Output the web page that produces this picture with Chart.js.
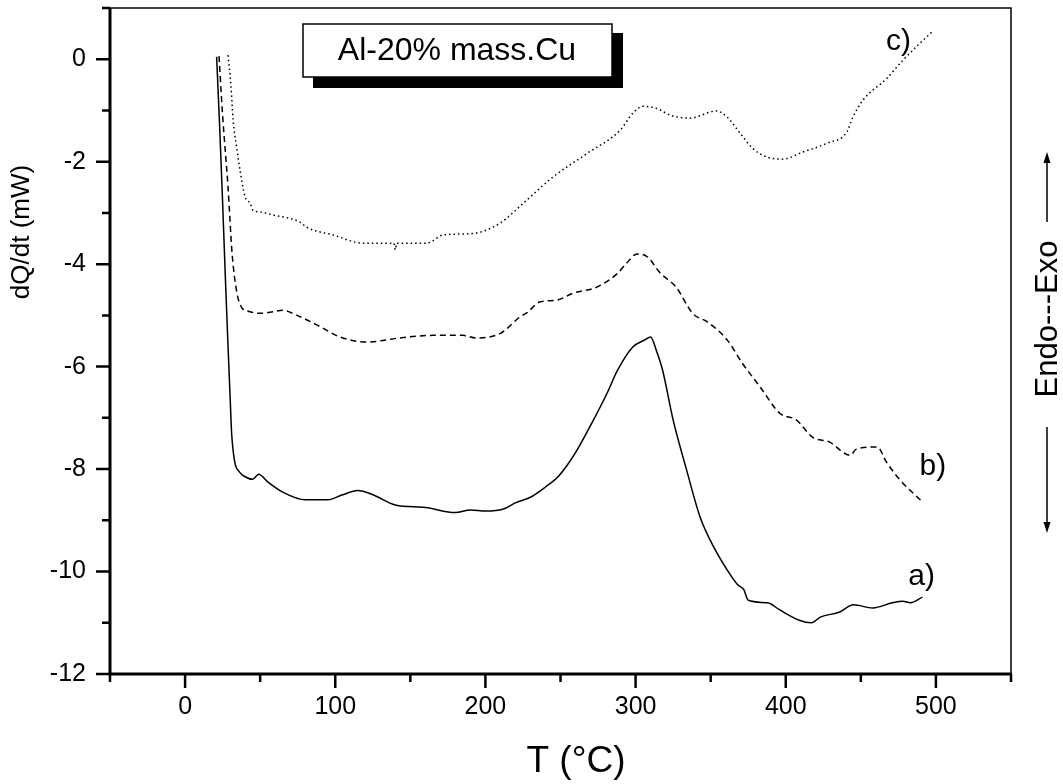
<!DOCTYPE html>
<html>
<head>
<meta charset="utf-8">
<script src="https://cdn.jsdelivr.net/npm/chart.js@4.4.1/dist/chart.umd.min.js"></script>
<style>
  html, body { margin: 0; padding: 0; background: #fff; }
  #wrap { width: 1063px; height: 784px; position: relative; }
</style>
</head>
<body>
<div id="wrap"><canvas id="dsc"></canvas></div>
<script>
// curve a) solid
let aT = [21, 23, 25, 27, 28.6, 30, 31, 33, 36, 40, 45, 49, 55, 65, 80, 95, 105, 115, 125, 140, 160, 180, 190, 200, 212, 220, 230, 240, 248, 255, 261, 272, 281, 288, 298, 306, 310, 314, 318, 325, 334, 343, 352, 361, 368, 372, 375, 388, 396, 409, 417, 423, 436, 445, 458, 471, 478, 483, 491];
let aQ = [0.05, -1.3, -2.8, -4.4, -5.6, -6.6, -7.3, -7.85, -8.05, -8.15, -8.2, -8.1, -8.25, -8.45, -8.6, -8.6, -8.5, -8.42, -8.5, -8.7, -8.75, -8.85, -8.8, -8.82, -8.78, -8.66, -8.55, -8.35, -8.16, -7.9, -7.63, -7.04, -6.52, -6.07, -5.62, -5.48, -5.42, -5.7, -6.07, -7.04, -8.02, -8.94, -9.52, -9.97, -10.26, -10.35, -10.56, -10.61, -10.75, -10.95, -11.0, -10.89, -10.79, -10.65, -10.71, -10.61, -10.58, -10.61, -10.5];

// curve b) dashed
let bT = [22.6, 25, 28.6, 31.3, 34.6, 38, 42, 50, 56.6, 65, 74.6, 88, 103, 121, 143, 165, 185, 194, 210, 223, 228, 236, 248, 258, 274, 288, 294, 301, 308, 316, 327, 338, 348, 361, 371, 383, 396, 407, 418, 429, 443, 447, 461, 467, 476, 491];
let bQ = [0.06, -1.1, -2.5, -3.79, -4.57, -4.86, -4.92, -4.96, -4.94, -4.9, -5.0, -5.19, -5.42, -5.52, -5.44, -5.39, -5.39, -5.44, -5.35, -5.03, -4.94, -4.74, -4.7, -4.57, -4.45, -4.18, -3.98, -3.8, -3.86, -4.16, -4.45, -4.96, -5.13, -5.48, -5.93, -6.4, -6.91, -7.04, -7.38, -7.47, -7.73, -7.61, -7.57, -7.86, -8.21, -8.64];

// curve c) dotted
let cT = [28.6, 30.5, 32, 34.5, 36.6, 40, 43.3, 45.3, 50, 58.6, 76.6, 81, 98.5, 118.5, 125, 139, 140, 141, 161, 171.8, 191.7, 209.7, 226, 245, 267.6, 289.6, 298.3, 305, 314, 323, 336, 354, 361, 369.5, 378, 387.5, 398, 411.5, 427.4, 440.7, 444.7, 451.4, 467.4, 478, 489.3, 497.3];
let cQ = [0.08, -0.5, -1.19, -1.75, -2.17, -2.69, -2.81, -2.95, -2.98, -3.04, -3.18, -3.28, -3.43, -3.59, -3.59, -3.59, -3.72, -3.59, -3.59, -3.43, -3.4, -3.2, -2.79, -2.3, -1.84, -1.39, -1.05, -0.92, -0.96, -1.09, -1.15, -1.01, -1.13, -1.44, -1.74, -1.91, -1.95, -1.81, -1.64, -1.42, -1.13, -0.8, -0.37, -0.02, 0.31, 0.53];

let curveNames = ['a)', 'b)', 'c)'];
// where each name sits, in data units
let nameT = [490.5, 498, 475];
let nameQ = [-10.1, -7.96, 0.35];

let sampleName = 'Al-20% mass.Cu';
let xTitle = 'T (°C)';
let yTitle = 'dQ/dt (mW)';
let sideTitle = 'Endo---Exo';

const FONT = '"Liberation Sans", Arial, sans-serif';

function pts(t, q) {
  return t.map((v, i) => ({x: v, y: q[i]}));
}

const decor = {
  id: 'decor',
  afterDraw(chart) {
    const ctx = chart.ctx;
    const a = chart.chartArea;
    const x = chart.scales.x, y = chart.scales.y;
    ctx.save();
    ctx.strokeStyle = '#000';
    ctx.fillStyle = '#000';

    // frame: thin top/right, heavy left/bottom
    ctx.lineWidth = 1.5;
    ctx.beginPath();
    ctx.moveTo(a.left, a.top); ctx.lineTo(a.right, a.top); ctx.lineTo(a.right, a.bottom);
    ctx.stroke();
    ctx.lineWidth = 3;
    ctx.beginPath();
    ctx.moveTo(a.left, a.top); ctx.lineTo(a.left, a.bottom); ctx.lineTo(a.right + 1, a.bottom);
    ctx.stroke();

    // tick marks
    ctx.lineWidth = 2.5;
    ctx.beginPath();
    x.ticks.forEach(t => {
      const px = x.getPixelForValue(t.value);
      const len = t.value % 100 === 0 ? 14 : 8;
      ctx.moveTo(px, a.bottom); ctx.lineTo(px, a.bottom + len);
    });
    y.ticks.forEach(t => {
      const py = y.getPixelForValue(t.value);
      const len = t.value % 2 === 0 ? 14 : 8;
      ctx.moveTo(a.left, py); ctx.lineTo(a.left - len, py);
    });
    ctx.stroke();

    // curve names
    ctx.font = '30px ' + FONT;
    ctx.textAlign = 'center';
    ctx.textBaseline = 'middle';
    curveNames.forEach((n, i) => {
      ctx.fillText(n, x.getPixelForValue(nameT[i]), y.getPixelForValue(nameQ[i]));
    });

    // sample box with shadow
    ctx.fillRect(313, 33, 310, 55);
    ctx.fillStyle = '#fff';
    ctx.fillRect(303, 24, 309, 53);
    ctx.lineWidth = 1.5;
    ctx.strokeRect(303, 24, 309, 53);
    ctx.fillStyle = '#000';
    ctx.font = '32px ' + FONT;
    ctx.fillText(sampleName, 457, 51);

    // axis titles
    ctx.font = '37px ' + FONT;
    ctx.fillText(xTitle, 576, 762);
    ctx.save();
    ctx.translate(22, 232);
    ctx.rotate(-Math.PI / 2);
    ctx.font = '26px ' + FONT;
    ctx.fillText(yTitle, 0, 0);
    ctx.restore();

    // Endo---Exo with arrows
    ctx.save();
    ctx.translate(1048, 319);
    ctx.rotate(-Math.PI / 2);
    ctx.font = '31px ' + FONT;
    ctx.fillText(sideTitle, 0, 0);
    ctx.restore();
    ctx.lineWidth = 1.5;
    ctx.beginPath();
    ctx.moveTo(1047, 222); ctx.lineTo(1047, 160);
    ctx.moveTo(1047, 427); ctx.lineTo(1047, 525);
    ctx.stroke();
    ctx.beginPath();
    ctx.moveTo(1047, 152); ctx.lineTo(1043.5, 163); ctx.lineTo(1050.5, 163); ctx.closePath();
    ctx.moveTo(1047, 533); ctx.lineTo(1043.5, 522); ctx.lineTo(1050.5, 522); ctx.closePath();
    ctx.fill();

    ctx.restore();
  }
};

function lineSet(label, t, q, dash) {
  return {
    label: label,
    data: pts(t, q),
    borderColor: '#000',
    borderWidth: 1.5,
    borderDash: dash,
    pointRadius: 0,
    fill: false,
    cubicInterpolationMode: 'monotone'
  };
}

new Chart(document.getElementById('dsc'), {
  type: 'line',
  data: {
    datasets: [
      lineSet('a)', aT, aQ, []),
      lineSet('b)', bT, bQ, [6, 4]),
      lineSet('c)', cT, cQ, [1.5, 3])
    ]
  },
  options: {
    responsive: true,
    maintainAspectRatio: false,
    animation: false,
    layout: { padding: { top: 8, right: 52, left: 0, bottom: 0 } },
    plugins: { legend: { display: false }, tooltip: { enabled: false } },
    scales: {
      x: {
        type: 'linear',
        min: -50, max: 550,
        grid: { display: false, tickLength: 14 },
        border: { display: false },
        ticks: {
          stepSize: 50, autoSkip: false, maxRotation: 0, padding: 4,
          color: '#000', font: { family: FONT, size: 25 },
          callback: v => (v % 100 === 0 ? v : '')
        },
        afterFit: s => { s.height = 110; s.paddingLeft = 0; s.paddingRight = 0; }
      },
      y: {
        min: -12, max: 1,
        grid: { display: false, tickLength: 14 },
        border: { display: false },
        ticks: {
          stepSize: 1, autoSkip: false, padding: 10,
          color: '#000', font: { family: FONT, size: 25 },
          callback: v => (v % 2 === 0 ? v : '')
        },
        afterFit: s => { s.width = 110; s.paddingTop = 0; s.paddingBottom = 0; }
      }
    }
  },
  plugins: [decor]
});
</script>
</body>
</html>
